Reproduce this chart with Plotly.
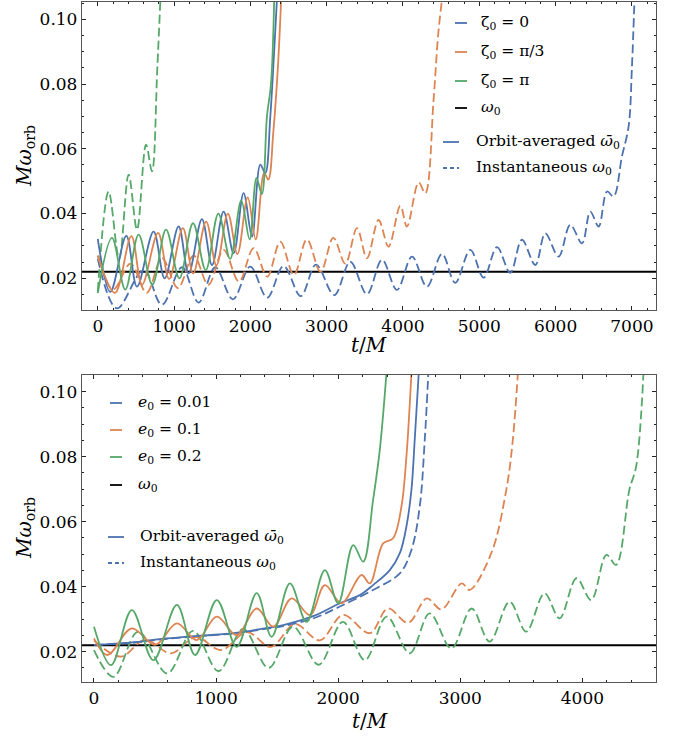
import plotly.graph_objects as go

# ---------------------------------------------------------------- data
omega0 = 0.022

# Top panel: e0 fixed, three initial phases zeta0
zeta_labels = ["ζ<sub>0</sub> = 0", "ζ<sub>0</sub> = π/3", "ζ<sub>0</sub> = π"]

# orbit-averaged frequency, zeta0 = 0
t_avg_z0 = [0, 164, 374, 514, 731, 876, 1059, 1190, 1365, 1497, 1649, 1780, 1911, 2021,
            2130, 2195, 2261, 2313, 2350]
w_avg_z0 = [0.0322, 0.0158, 0.0331, 0.0174, 0.0344, 0.0200, 0.0360, 0.0215, 0.0383, 0.0241,
            0.0406, 0.0277, 0.0463, 0.0329, 0.0551, 0.0525, 0.0700, 0.0907, 0.1070]
# orbit-averaged frequency, zeta0 = pi/3
t_avg_z1 = [0, 225, 440, 580, 790, 935, 1115, 1250, 1420, 1555, 1705, 1830, 1965, 2070,
            2180, 2235, 2300, 2360, 2405]
w_avg_z1 = [0.0270, 0.0155, 0.0330, 0.0180, 0.0340, 0.0198, 0.0355, 0.0215, 0.0375, 0.0240,
            0.0400, 0.0275, 0.0450, 0.0320, 0.0525, 0.0505, 0.0650, 0.0850, 0.1070]
# orbit-averaged frequency, zeta0 = pi
t_avg_z2 = [0, 186, 360, 535, 715, 894, 1070, 1248, 1415, 1580, 1735, 1880, 1990, 2080,
            2150, 2217, 2270, 2313]
w_avg_z2 = [0.0154, 0.0325, 0.0165, 0.0335, 0.0180, 0.0350, 0.0200, 0.0370, 0.0225, 0.0400,
            0.0260, 0.0440, 0.0320, 0.0510, 0.0460, 0.0700, 0.0800, 0.1070]

# instantaneous frequency, zeta0 = 0
t_ins_z0 = [0, 250, 600, 840, 1103, 1320, 1540, 1770, 1999, 2220, 2435, 2660, 2860, 3100,
            3309, 3528, 3725, 3921, 4118, 4314, 4511, 4685, 4882, 5057, 5232, 5406, 5559,
            5734, 5865, 6039, 6193, 6346, 6455, 6564, 6674, 6760, 6870, 6957, 7000, 7035]
w_ins_z0 = [0.0260, 0.0107, 0.0225, 0.0118, 0.0234, 0.0125, 0.0234, 0.0135, 0.0236, 0.0140,
            0.0238, 0.0145, 0.0242, 0.0148, 0.0251, 0.0151, 0.0257, 0.0164, 0.0267, 0.0174,
            0.0275, 0.0186, 0.0288, 0.0202, 0.0296, 0.0217, 0.0319, 0.0241, 0.0339, 0.0267,
            0.0365, 0.0308, 0.0406, 0.0360, 0.0468, 0.0453, 0.0577, 0.0669, 0.0850, 0.1070]
# instantaneous frequency, zeta0 = pi/3
t_ins_z1 = [0, 200, 430, 640, 841, 1050, 1256, 1450, 1649, 1850, 2042, 2220, 2392, 2570,
            2740, 2920, 3087, 3244, 3397, 3528, 3680, 3811, 3965, 4052, 4205, 4292, 4401,
            4460, 4515]
w_ins_z1 = [0.0270, 0.0165, 0.0245, 0.0155, 0.0262, 0.0170, 0.0270, 0.0180, 0.0288, 0.0190,
            0.0293, 0.0205, 0.0313, 0.0210, 0.0320, 0.0220, 0.0325, 0.0245, 0.0355, 0.0262,
            0.0380, 0.0298, 0.0424, 0.0360, 0.0496, 0.0463, 0.0752, 0.0950, 0.1070]
# instantaneous frequency, zeta0 = pi
t_ins_z2 = [0, 142, 280, 404, 514, 632, 710, 780, 822]
w_ins_z2 = [0.0160, 0.0468, 0.0260, 0.0520, 0.0350, 0.0613, 0.0530, 0.0850, 0.1070]

# Bottom panel: three initial eccentricities
ecc_labels = ["<i>e</i><sub>0</sub> = 0.01", "<i>e</i><sub>0</sub> = 0.1", "<i>e</i><sub>0</sub> = 0.2"]

t_avg_e0 = [0, 300, 597, 900, 1141, 1400, 1550, 1800, 2014, 2177, 2286, 2423, 2505, 2559,
            2600, 2627, 2662]
w_avg_e0 = [0.0221, 0.0228, 0.0241, 0.0250, 0.0257, 0.0272, 0.0282, 0.0310, 0.0349, 0.0374,
            0.0405, 0.0451, 0.0503, 0.0585, 0.0698, 0.0852, 0.1070]
t_avg_e1 = [0, 110, 310, 501, 679, 842, 1006, 1169, 1333, 1469, 1619, 1769, 1891, 2027,
            2191, 2259, 2368, 2450, 2518, 2559, 2602]
w_avg_e1 = [0.0241, 0.0190, 0.0272, 0.0221, 0.0287, 0.0236, 0.0308, 0.0251, 0.0333, 0.0277,
            0.0364, 0.0313, 0.0405, 0.0349, 0.0436, 0.0410, 0.0533, 0.0549, 0.0646, 0.0800,
            0.1070]
t_avg_e2 = [0, 140, 310, 487, 679, 828, 1006, 1169, 1333, 1455, 1605, 1741, 1891, 2000,
            2123, 2205, 2286, 2341, 2398]
w_avg_e2 = [0.0277, 0.0159, 0.0328, 0.0174, 0.0344, 0.0190, 0.0359, 0.0215, 0.0380, 0.0246,
            0.0410, 0.0292, 0.0451, 0.0349, 0.0528, 0.0477, 0.0667, 0.0821, 0.1070]

t_ins_e0 = [0, 300, 597, 900, 1141, 1400, 1550, 1800, 2014, 2286, 2505, 2600, 2668, 2709,
            2740]
w_ins_e0 = [0.0221, 0.0227, 0.0240, 0.0249, 0.0256, 0.0270, 0.0279, 0.0303, 0.0339, 0.0390,
            0.0441, 0.0513, 0.0646, 0.0851, 0.1070]
t_ins_e1 = [0, 220, 420, 630, 836, 1040, 1253, 1450, 1646, 1850, 2039, 2259, 2407, 2573,
            2726, 2845, 3012, 3077, 3254, 3377, 3430, 3474]
w_ins_e1 = [0.0235, 0.0185, 0.0237, 0.0195, 0.0245, 0.0205, 0.0260, 0.0215, 0.0285, 0.0235,
            0.0313, 0.0257, 0.0333, 0.0289, 0.0364, 0.0330, 0.0410, 0.0390, 0.0503, 0.0698,
            0.0850, 0.1070]
t_ins_e2 = [0, 160, 362, 600, 812, 1020, 1221, 1430, 1630, 1840, 2039, 2218, 2398, 2586,
            2750, 2927, 3093, 3240, 3404, 3540, 3690, 3813, 3952, 4072, 4197, 4276, 4385,
            4440, 4502]
w_ins_e2 = [0.0205, 0.0123, 0.0262, 0.0133, 0.0264, 0.0140, 0.0270, 0.0150, 0.0277, 0.0160,
            0.0292, 0.0174, 0.0308, 0.0195, 0.0318, 0.0210, 0.0333, 0.0231, 0.0354, 0.0262,
            0.0380, 0.0303, 0.0426, 0.0359, 0.0498, 0.0467, 0.0698, 0.0769, 0.1070]

top_xticks = [0, 1000, 2000, 3000, 4000, 5000, 6000, 7000]
bot_xticks = [0, 1000, 2000, 3000, 4000]
yticks = [0.02, 0.04, 0.06, 0.08, 0.10]
ytick_text = ["0.02", "0.04", "0.06", "0.08", "0.10"]

# ---------------------------------------------------------------- style
BLUE, ORANGE, GREEN = "#4C72B0", "#DD8452", "#55A868"
colors = [BLUE, ORANGE, GREEN]
SERIF = "DejaVu Serif"
W, H = 683, 740
LW = 1.8
DASH = "9px,4px"
LEG = 15.5


def px(x):
    return x / W


def py(y):
    return 1 - y / H


fig = go.Figure()

top_avg = [(t_avg_z0, w_avg_z0), (t_avg_z1, w_avg_z1), (t_avg_z2, w_avg_z2)]
top_ins = [(t_ins_z0, w_ins_z0), (t_ins_z1, w_ins_z1), (t_ins_z2, w_ins_z2)]
bot_avg = [(t_avg_e0, w_avg_e0), (t_avg_e1, w_avg_e1), (t_avg_e2, w_avg_e2)]
bot_ins = [(t_ins_e0, w_ins_e0), (t_ins_e1, w_ins_e1), (t_ins_e2, w_ins_e2)]


def add_panel(avg, ins, xa, ya, tmax):
    fig.add_trace(go.Scatter(x=[-1000, tmax], y=[omega0, omega0], mode="lines",
                             line=dict(color="black", width=2), xaxis=xa, yaxis=ya,
                             hoverinfo="skip"))
    for (t, w), c in zip(ins, colors):
        fig.add_trace(go.Scatter(x=t, y=w, mode="lines",
                                 line=dict(color=c, width=LW, dash=DASH, shape="spline",
                                           smoothing=1.0),
                                 xaxis=xa, yaxis=ya))
    for (t, w), c in zip(avg, colors):
        fig.add_trace(go.Scatter(x=t, y=w, mode="lines",
                                 line=dict(color=c, width=LW, shape="spline", smoothing=1.0),
                                 xaxis=xa, yaxis=ya))


add_panel(top_avg, top_ins, "x", "y", 9000)
add_panel(bot_avg, bot_ins, "x2", "y2", 6000)

axis_common = dict(showgrid=False, zeroline=False, showline=True, linecolor="#555555",
                   linewidth=1.3, mirror="allticks", ticks="inside", ticklen=4,
                   tickwidth=1.2, tickcolor="#222222",
                   tickfont=dict(family=SERIF, size=17, color="black"))

xdom = [px(82), px(656)]
fig.update_layout(
    width=W, height=H, margin=dict(l=0, r=0, t=0, b=0),
    paper_bgcolor="white", plot_bgcolor="white", showlegend=False,
    font=dict(family=SERIF, color="black"),
    xaxis=dict(domain=xdom, range=[-207, 7316], anchor="y", tickvals=top_xticks,
               minor=dict(dtick=200, tick0=0, ticks="inside", ticklen=2, tickcolor="#222222"),
               **axis_common),
    yaxis=dict(domain=[py(310), py(1.5)], range=[0.0102, 0.1055], anchor="x",
               tickvals=yticks, ticktext=ytick_text,
               minor=dict(dtick=0.005, tick0=0, ticks="inside", ticklen=2, tickcolor="#222222"),
               **axis_common),
    xaxis2=dict(domain=xdom, range=[-98, 4603], anchor="y2", tickvals=bot_xticks,
                minor=dict(dtick=200, tick0=0, ticks="inside", ticklen=2, tickcolor="#222222"),
                **axis_common),
    yaxis2=dict(domain=[py(682.3), py(375)], range=[0.0106, 0.1051], anchor="x2",
                tickvals=yticks, ticktext=ytick_text,
                minor=dict(dtick=0.005, tick0=0, ticks="inside", ticklen=2, tickcolor="#222222"),
                **axis_common),
)

annotations = []
shapes = []


def text(x, y, s, size=LEG, anchor="left", angle=0):
    annotations.append(dict(x=px(x), y=py(y), xref="paper", yref="paper", text=s,
                            showarrow=False, xanchor=anchor, yanchor="middle",
                            textangle=angle,
                            font=dict(family=SERIF, size=size, color="black")))


def sample(x0, x1, y, color, dash="solid"):
    shapes.append(dict(type="line", xref="paper", yref="paper", x0=px(x0), x1=px(x1),
                       y0=py(y), y1=py(y), line=dict(color=color, width=LW, dash=dash)))


# axis titles
text(369, 345, "<i>t</i>/<i>M</i>", size=20, anchor="center")
text(370, 721, "<i>t</i>/<i>M</i>", size=20, anchor="center")
text(25, 156, "<i>Mω</i><sub>orb</sub>", size=20, anchor="center", angle=-90)
text(25, 528, "<i>Mω</i><sub>orb</sub>", size=20, anchor="center", angle=-90)

# legend, top panel
for lab, c, y in zip(zeta_labels, colors, [23, 52, 81]):
    sample(455, 467, y, c)
    text(479, y, lab)
sample(455, 467, 108, "black")
text(479, 108, "<i>ω</i><sub>0</sub>")
sample(443, 459, 142, BLUE)
text(474, 142, "Orbit-averaged <i>ω\u0304</i><sub>0</sub>")
sample(443, 459, 168, BLUE, dash="4px,3px")
text(474, 168, "Instantaneous <i>ω</i><sub>0</sub>")

# legend, bottom panel
for lab, c, y in zip(ecc_labels, colors, [403, 430, 457]):
    sample(110, 122, y, c)
    text(136, y, lab)
sample(110, 122, 485, "black")
text(136, 485, "<i>ω</i><sub>0</sub>")
sample(108, 124, 537, BLUE)
text(138, 537, "Orbit-averaged <i>ω\u0304</i><sub>0</sub>")
sample(108, 124, 563, BLUE, dash="4px,3px")
text(138, 563, "Instantaneous <i>ω</i><sub>0</sub>")

fig.update_layout(annotations=annotations, shapes=shapes)
fig.write_html("out.html")
